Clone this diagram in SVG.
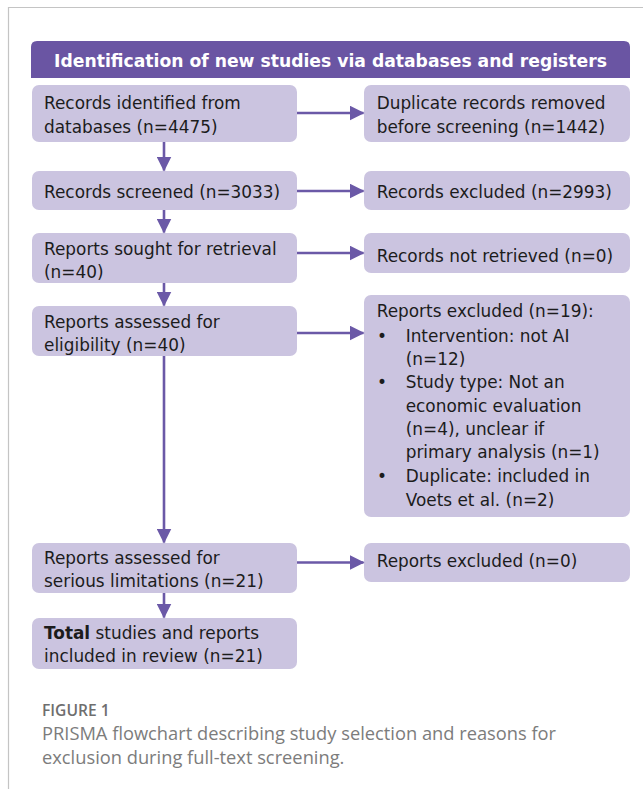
<svg xmlns="http://www.w3.org/2000/svg" width="643" height="789" viewBox="0 0 643 789">
<style>
.box{fill:#cbc4e0;}
.t{font-family:"DejaVu Sans",Verdana,sans-serif;font-size:16.9px;fill:#1c1c1c;}
.hd{font-family:"DejaVu Sans",Verdana,sans-serif;font-size:17.2px;font-weight:bold;fill:#ffffff;}
.cap{font-family:"Open Sans","Liberation Sans",sans-serif;font-size:18.3px;fill:#7c7c7c;}
.capb{font-family:"Open Sans","Liberation Sans",sans-serif;font-size:15.6px;font-weight:600;fill:#6e6e6e;}
.ar{stroke:#6b59a7;stroke-width:2.6;fill:none;}
</style>
<defs>
<marker id="ah" markerUnits="userSpaceOnUse" markerWidth="15" markerHeight="15" viewBox="0 0 15 15" refX="14" refY="7.5" orient="auto">
<path d="M0,0 L15,7.5 L0,15 Z" fill="#6b59a7"/>
</marker>
</defs>
<rect width="643" height="789" fill="#ffffff"/>
<g id="frame">
<line x1="8" y1="7.5" x2="643" y2="7.5" stroke="#c4c4c4" stroke-width="1.2"/>
<line x1="8.5" y1="7" x2="8.5" y2="789" stroke="#c4c4c4" stroke-width="1.2"/>
</g>
<g id="header">
<path d="M31,78 L31,47 Q31,41 37,41 L624,41 Q630,41 630,47 L630,78 Z" fill="#6a55a3"/>
<text class="hd" x="330.5" y="67" text-anchor="middle">Identification of new studies via databases and registers</text>
</g>
<g id="n1"><rect class="box" x="32" y="85" width="265" height="57" rx="7"/>
<text class="t" x="44" y="109.3">Records identified from</text>
<text class="t" x="44" y="132.5">databases (n=4475)</text></g>
<g id="n2"><rect class="box" x="32" y="171" width="265" height="39" rx="7"/>
<text class="t" x="44" y="198.3">Records screened (n=3033)</text></g>
<g id="n3"><rect class="box" x="32" y="233" width="265" height="50" rx="7"/>
<text class="t" x="44" y="255">Reports sought for retrieval</text>
<text class="t" x="44" y="278">(n=40)</text></g>
<g id="n4"><rect class="box" x="32" y="306" width="265" height="50" rx="7"/>
<text class="t" x="44" y="328">Reports assessed for</text>
<text class="t" x="44" y="351">eligibility (n=40)</text></g>
<g id="n5"><rect class="box" x="32" y="543" width="265" height="50" rx="7"/>
<text class="t" x="44" y="563.5">Reports assessed for</text>
<text class="t" x="44" y="586.5">serious limitations (n=21)</text></g>
<g id="n6"><rect class="box" x="32" y="618" width="265" height="51" rx="7"/>
<text class="t" x="44" y="638.5"><tspan font-weight="bold">Total</tspan> studies and reports</text>
<text class="t" x="44" y="661.5">included in review (n=21)</text></g>
<g id="r1"><rect class="box" x="364" y="85" width="266" height="57" rx="7"/>
<text class="t" x="376.7" y="109.3">Duplicate records removed</text>
<text class="t" x="376.7" y="132.5">before screening (n=1442)</text></g>
<g id="r2"><rect class="box" x="364" y="171" width="266" height="39" rx="7"/>
<text class="t" x="376.7" y="198.3">Records excluded (n=2993)</text></g>
<g id="r3"><rect class="box" x="364" y="233" width="266" height="40" rx="7"/>
<text class="t" x="376.7" y="261.5">Records not retrieved (n=0)</text></g>
<g id="r4"><rect class="box" x="364" y="295" width="266" height="222" rx="7"/>
<text class="t" x="376.7" y="316.7">Reports excluded (n=19):</text>
<text class="t" x="377" y="341.5">•</text><text class="t" x="405.7" y="341.5">Intervention: not AI</text>
<text class="t" x="405.7" y="365">(n=12)</text>
<text class="t" x="377" y="388.3">•</text><text class="t" x="405.7" y="388.3">Study type: Not an</text>
<text class="t" x="405.7" y="411.7">economic evaluation</text>
<text class="t" x="405.7" y="435">(n=4), unclear if</text>
<text class="t" x="405.7" y="458.3">primary analysis (n=1)</text>
<text class="t" x="377" y="481.7">•</text><text class="t" x="405.7" y="481.7">Duplicate: included in</text>
<text class="t" x="405.7" y="505.5">Voets et al. (n=2)</text></g>
<g id="r5"><rect class="box" x="364" y="543" width="266" height="39" rx="7"/>
<text class="t" x="376.7" y="566.7">Reports excluded (n=0)</text></g>
<g id="connectors">
<line class="ar" x1="164" y1="142" x2="164" y2="170.5" marker-end="url(#ah)"/>
<line class="ar" x1="164" y1="210" x2="164" y2="232.5" marker-end="url(#ah)"/>
<line class="ar" x1="164" y1="283" x2="164" y2="305.5" marker-end="url(#ah)"/>
<line class="ar" x1="164" y1="356" x2="164" y2="542.5" marker-end="url(#ah)"/>
<line class="ar" x1="164" y1="593" x2="164" y2="617.5" marker-end="url(#ah)"/>
<line class="ar" x1="297" y1="113" x2="363.5" y2="113" marker-end="url(#ah)"/>
<line class="ar" x1="297" y1="191" x2="363.5" y2="191" marker-end="url(#ah)"/>
<line class="ar" x1="297" y1="253" x2="363.5" y2="253" marker-end="url(#ah)"/>
<line class="ar" x1="297" y1="333" x2="363.5" y2="333" marker-end="url(#ah)"/>
<line class="ar" x1="297" y1="562.5" x2="363.5" y2="562.5" marker-end="url(#ah)"/>
</g>
<g id="caption">
<text class="capb" x="42" y="716">FIGURE 1</text>
<text class="cap" x="42" y="740">PRISMA flowchart describing study selection and reasons for</text>
<text class="cap" x="42" y="763.5">exclusion during full-text screening.</text>
</g>
</svg>
